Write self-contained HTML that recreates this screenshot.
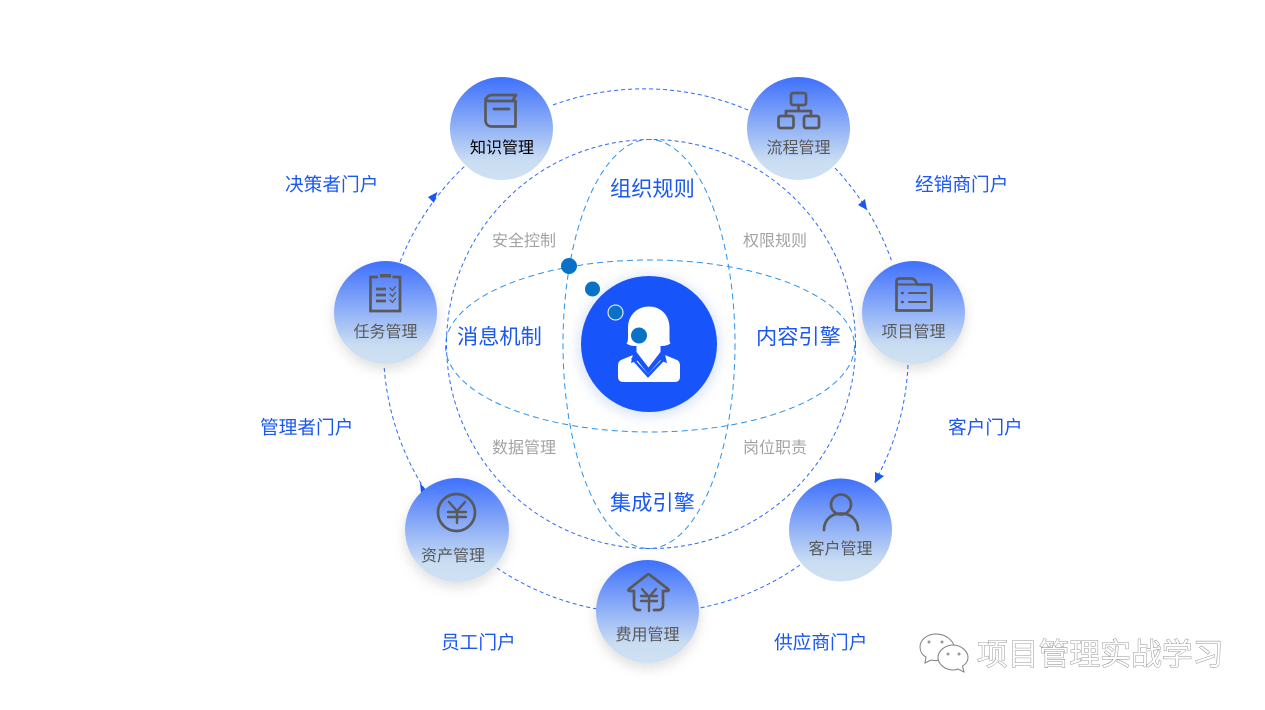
<!DOCTYPE html>
<html><head><meta charset="utf-8">
<style>
html,body{margin:0;padding:0;background:#fff}
body{width:1265px;height:710px;overflow:hidden;position:relative}
svg{position:absolute;left:0;top:0}
text{font-family:"Liberation Sans","Noto Sans CJK SC",sans-serif}
.b{fill:#1a58f0;font-size:18.7px}
.c{fill:#1a58f0;font-size:21.2px}
.g{fill:#a3a3a3;font-size:16px}
.n{fill:#595959;font-size:16px;text-anchor:middle}
.i{fill:none;stroke:#595959;stroke-width:2.700;stroke-linecap:round;stroke-linejoin:round}
.o{fill:none;stroke:#2b69f8;stroke-width:1;stroke-dasharray:4 3}
.e{fill:none;stroke:#2a92ea;stroke-width:1;stroke-dasharray:6 4}
.w{fill:#fff;font-size:30.8px;stroke:#777;stroke-width:.8;paint-order:stroke}
</style></head><body>
<svg width="1265" height="710" viewBox="0 0 1265 710">
<defs>
<linearGradient id="g" x1="0" y1="0" x2="0" y2="1"><stop offset="0" stop-color="#3e70fd"/><stop offset=".82" stop-color="#cadef2"/><stop offset="1" stop-color="#cfe1f3"/></linearGradient>
<filter id="s" x="-30%" y="-30%" width="160%" height="160%"><feDropShadow dx="0" dy="5" stdDeviation="6" flood-color="#000" flood-opacity=".13"/></filter>
<filter id="h" x="-30%" y="-30%" width="160%" height="160%"><feGaussianBlur stdDeviation="6"/></filter>
</defs>

<!-- outer arcs -->
<path class="o" d="M553 105A265 265 0 0 1 748 110"/>
<path class="o" d="M835 168A265 265 0 0 1 892 262"/>
<path class="o" d="M908 365A265 265 0 0 1 873 485"/>
<path class="o" d="M800 565A265 265 0 0 1 700 608"/>
<path class="o" d="M597 609A265 265 0 0 1 497 568"/>
<path class="o" d="M425 490A265 265 0 0 1 384 365"/>
<path class="o" d="M400 262A265 265 0 0 1 466 165"/>
<polygon fill="#1a58f0" points="867,210 858,205 865,199"/>
<polygon fill="#1a58f0" points="875,483 875,472 884,476"/>
<polygon fill="#1a58f0" points="428,492 420,483 421,493"/>
<polygon fill="#1a58f0" points="437.500,192 428,197 434,203"/>

<!-- inner -->
<circle class="o" cx="651" cy="344" r="204.500" stroke-dasharray="3 2"/>
<ellipse class="e" cx="650" cy="346" rx="204.500" ry="86"/>
<ellipse class="e" cx="649" cy="344" rx="86" ry="204.500"/>

<!-- centre -->
<circle cx="649" cy="346" r="71" fill="#b4c9ea" opacity=".5" filter="url(#h)"/>
<circle cx="649" cy="344" r="68" fill="#1755fb"/>
<!-- body -->
<path fill="#fff" d="M633 355l-12 5c-2 1-3 3-3 6v11c0 3 2 5 5 5h52c3 0 5-2 5-5v-11c0-3-1-5-3-6l-12-5-17 19z"/>
<path fill="none" stroke="#1755fb" stroke-width="2.500" d="M632 358l16 18 17-18"/>
<path fill="#1755fb" d="M633 354l-2 9 6-2 3-7z M665 354l2 9-6-2-3-7z"/>
<!-- head & neck -->
<path fill="#fff" d="M649 306.500c12 0 20.500 9 20.500 21v10c0 3 0 4.500 1 6-3 2-6 2.500-10 2.500v6l-12 15.500-12-15.500v-6c-4 0-7-.5-10-2.500 1-1.500 1.500-3 1.500-6v-10c0-12 9-21 21-21z"/>
<circle cx="569" cy="266" r="8" fill="#0a72c6"/>
<circle cx="592.500" cy="289" r="7.500" fill="#0a72c6"/>
<circle cx="615.500" cy="312.500" r="7.500" fill="#0a72c6" stroke="#fff" stroke-width="1"/>
<circle cx="639" cy="335.500" r="8" fill="#0a72c6"/>

<!-- nodes -->
<g filter="url(#s)">
<circle cx="385.500" cy="312.500" r="51.500" fill="url(#g)"/>
<circle cx="913.500" cy="312.500" r="51.500" fill="url(#g)"/>
<circle cx="457" cy="530" r="52" fill="url(#g)"/>
<circle cx="647.500" cy="611.500" r="51.500" fill="url(#g)"/>
</g>
<circle cx="501.500" cy="128.500" r="51.500" fill="url(#g)"/>
<circle cx="798.500" cy="128.500" r="51.500" fill="url(#g)"/>
<circle cx="840.500" cy="530" r="51.500" fill="url(#g)"/>

<!-- book -->
<path class="i" d="M516 95H492c-4 0-6.500 3-6.500 7v18c0 4 2.500 6.500 6.500 6.500h23.500V101H490c-2.500 0-4.500-1-4.500-2M513 100l3-5"/>
<path class="i" d="M494 109h15" stroke-width="2.500"/>
<!-- org chart -->
<g class="i">
<rect x="791" y="93" width="15" height="12" rx="2"/>
<rect x="778.500" y="116" width="15" height="12" rx="2"/>
<rect x="804" y="116" width="15" height="12" rx="2"/>
<path d="M798.500 105v6M786 116v-5h25v5"/>
</g>
<!-- clipboard -->
<g class="i">
<path d="M378 277h-7.500v34h29.500v-34h-7.500" stroke-linecap="butt" stroke-linejoin="miter"/>
<rect x="380" y="274" width="11" height="3.500" fill="#595959" stroke="none"/>
<path d="M376 289h10M376 295h10M376 301h10" stroke-linecap="butt"/>
<path d="M390 288l2.500 2.500 3-4M390 294l2.500 2.500 3-4M390 300l2.500 2.500 3-4" stroke-width="1.300"/>
</g>
<!-- folder -->
<g class="i">
<path d="M896.500 310.500V281c0-1.500 1-2.500 2.500-2.500h12c3 0 5 2 6 6h13c1 0 1.500 .5 1.500 1.500v24.500z"/>
<path d="M897 284.500h20" stroke-width="2"/>
<path d="M909 293h17M909 302h17" stroke-width="2"/>
<path d="M902 293h.8M902 302h.8" stroke-width="2.500"/>
</g>
<!-- yen coin -->
<g class="i">
<circle cx="456.500" cy="512.500" r="18.500"/>
<path d="M449 502l8 9 8-9M448 512h18M448 517h18M457 511v12" stroke-width="2.400"/>
</g>
<!-- house yen -->
<g class="i">
<path d="M640 610h-2c-2 0-4-2-4-4V591h-4c-2 0-2-1-1-2l18-14c1-1 2-1 3 0l18 14c1 1 1 2-1 2h-4v15c0 2-2 4-4 4h-5"/>
<path d="M642 589l7 8 7-8M641 596h16M641 601h16M649 596v15" stroke-width="2.400"/>
</g>
<!-- person -->
<g class="i">
<circle cx="841" cy="504.500" r="10"/>
<path d="M824 530c0-10 7-16.500 17-16.500s17 6.500 17 16.500"/>
</g>

<!-- node labels -->
<text x="502" y="153" class="n" style="fill:#000">知识管理</text>
<text x="798.500" y="153" class="n">流程管理</text>
<text x="385.500" y="337" class="n">任务管理</text>
<text x="913.500" y="337" class="n">项目管理</text>
<text x="453" y="561" class="n">资产管理</text>
<text x="647.500" y="640" class="n">费用管理</text>
<text x="840.500" y="554" class="n">客户管理</text>

<!-- portal labels -->
<text x="285" y="191" class="b">决策者门户</text>
<text x="915" y="191" class="b">经销商门户</text>
<text x="260" y="434" class="b">管理者门户</text>
<text x="948" y="434" class="b">客户门户</text>
<text x="441" y="649" class="b">员工门户</text>
<text x="774" y="649" class="b">供应商门户</text>

<text x="610" y="196" class="c">组织规则</text>
<text x="457" y="344" class="c">消息机制</text>
<text x="756" y="344" class="c">内容引擎</text>
<text x="610" y="510" class="c">集成引擎</text>

<text x="492" y="246" class="g">安全控制</text>
<text x="743" y="246" class="g">权限规则</text>
<text x="492" y="453" class="g">数据管理</text>
<text x="743" y="453" class="g">岗位职责</text>

<!-- watermark -->
<g fill="#fff" stroke="#808080" stroke-width="1">
<path d="M936 634c-9 0-16 6-16 13 0 4 2 8 6 10l-1 6 6-3c2 .5 4 .8 7 .5 0-9 6-15 16-15-2-6-9-11.500-18-11.500z"/>
<path d="M953 645c-8 0-15 6-15 12.500s7 12.500 15 12.500c2 0 3 0 5-1l6 3-1.500-6c3.500-2 5.500-5 5.500-8.500 0-6.500-7-12.500-15-12.500z"/>
</g>
<circle cx="929" cy="642" r="1.500" fill="#999"/><circle cx="942" cy="642" r="1.500" fill="#999"/>
<circle cx="948" cy="654" r="1.500" fill="#999"/><circle cx="959" cy="654" r="1.500" fill="#999"/>
<text x="977" y="665" class="w">项目管理实战学习</text>
</svg>
</body></html>
